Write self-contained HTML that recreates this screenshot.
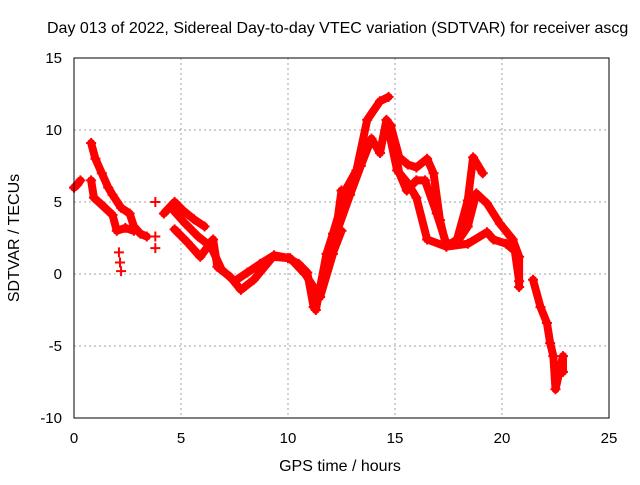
<!DOCTYPE html>
<html><head><meta charset="utf-8"><style>
html,body{margin:0;padding:0;background:#fff}
svg text{font-family:"Liberation Sans",sans-serif;font-size:15px;fill:#000}
svg text.big{font-size:16px}
</style></head><body>
<svg id="chart" width="640" height="480" viewBox="0 0 640 480" xmlns="http://www.w3.org/2000/svg">
<text class="big" x="47" y="33">Day 013 of 2022, Sidereal Day-to-day VTEC variation (SDTVAR) for receiver ascg</text>
<g id="grid"></g>
<g id="series"></g>
<rect x="74" y="58" width="535" height="360" fill="none" stroke="#000" stroke-width="1"/>
<g id="ticks"></g>
<text class="big" x="340" y="471" text-anchor="middle">GPS time / hours</text>
<text class="big" transform="translate(19,238) rotate(-90)" text-anchor="middle">SDTVAR / TECUs</text>
</svg>
<script>
const xTicks=[0,5,10,15,20,25];
const yTicks=[-10,-5,0,5,10,15];
const trackA_t=[0,0.15,0.3];
const trackA_v=[6,6.2,6.5];
const trackB_t=[0.8,1.0,1.3,1.6,1.8,2.2,2.6,2.8,3.1,3.4];
const trackB_v=[9.1,8.0,7.0,6.0,5.5,4.6,4.2,3.3,2.8,2.6];
const trackB2_t=[0.8,0.93,1.3,1.8,2.0,2.4,2.8];
const trackB2_v=[6.5,5.3,4.8,4.1,3.0,3.2,3.0];
const trackIso_t=[2.1,2.15,2.2,3.8,3.8,3.8];
const trackIso_v=[1.5,0.8,0.2,5.0,2.6,1.8];
const trackC_t=[4.2,4.7,5.1,5.6,6.1];
const trackC_v=[4.2,5.0,4.4,3.8,3.3];
const trackD_t=[4.7,5.3,5.9,6.5,6.7,7.3,7.8,8.4,9.3,10.0,10.5,10.9,11.2,11.8,12.5];
const trackD_v=[3.1,2.2,1.2,2.4,0.5,-0.2,-1.1,-0.4,1.2,1.1,0.7,0.1,-2.3,0.3,3.0];
const trackE_t=[4.6,5.2,5.8,6.4,6.9,7.5,8.1,8.7,9.35,10.1,10.8,11.5,12.1,12.5];
const trackE_v=[4.5,3.5,2.6,1.9,0.3,-0.5,0.1,0.7,1.3,1.1,0.0,-1.6,1.4,5.8];
const trackF_t=[11.3,11.8,12.1,12.75,13.2,13.7,14.3,14.7];
const trackF_v=[-2.5,1.4,2.8,6.0,7.2,10.7,12.0,12.3];
const trackG_t=[12.3,12.9,13.4,13.9,14.3,14.6,14.8];
const trackG_v=[3.0,5.5,7.5,9.4,8.4,10.7,10.3];
const trackP_t=[14.8,15.2,15.6,16.0,16.5,16.8,17.1,17.4,17.9,18.4,18.65,19.1];
const trackP_v=[10.3,8.1,7.6,7.4,8.0,7.0,3.75,1.9,2.4,5.1,8.1,7.0];
const trackQ_t=[14.8,15.2,15.55,16.0,16.4,16.95,17.4,17.9,18.4,18.8,19.3,19.9,20.5,20.8,20.8];
const trackQ_v=[10.0,7.0,5.8,6.5,6.5,4.2,2.1,2.2,3.3,5.6,4.9,3.5,2.4,1.2,-0.9];
const trackR_t=[14.7,15.1,15.6,16.0,16.5,17.4,18.4,19.3,19.6,20.2,20.6,20.8];
const trackR_v=[10.0,7.2,6.3,5.3,2.4,1.9,2.1,2.9,2.4,2.1,1.6,-0.5];
const trackT_t=[21.45,21.8,22.1,22.25,22.4,22.5,22.85,22.85];
const trackT_v=[-0.4,-2.3,-3.4,-4.8,-5.7,-8.0,-5.7,-6.8];

const X0=74,X1=609,Y0=418,Y1=58;
function sx(t){return X0+(t-0)/25*(X1-X0);}
function sy(v){return Y0-(v+10)/25*(Y0-Y1);}
const NS="http://www.w3.org/2000/svg";
const grid=document.getElementById('grid'),ticks=document.getElementById('ticks'),ser=document.getElementById('series');
function mk(tag,attrs,parent){const e=document.createElementNS(NS,tag);for(const k in attrs)e.setAttribute(k,attrs[k]);parent.appendChild(e);return e;}
xTicks.forEach(t=>{
  const x=sx(t);
  if(t>0&&t<25){const g=mk('line',{x1:x,y1:Y1,x2:x,y2:Y0,stroke:'#a0a0a0','stroke-dasharray':'2,3'},grid);
  
  }
  const l=mk('text',{x:x,y:Y0+25,'text-anchor':'middle'},ticks);l.textContent=t;
  
  
});
yTicks.forEach(v=>{
  const y=sy(v);
  if(v>-10&&v<15){const g=mk('line',{x1:X0,y1:y,x2:X1,y2:y,stroke:'#a0a0a0','stroke-dasharray':'2,3'},grid);
  
  }
  const l=mk('text',{x:X0-12,y:y+5,'text-anchor':'end'},ticks);l.textContent=v;
  
  
});
const tracks=[[trackA_t,trackA_v,true],[trackB_t,trackB_v,true],[trackB2_t,trackB2_v,true],[trackIso_t,trackIso_v,false],[trackC_t,trackC_v,true],[trackD_t,trackD_v,true],[trackE_t,trackE_v,true],[trackF_t,trackF_v,true],[trackG_t,trackG_v,true],[trackP_t,trackP_v,true],[trackQ_t,trackQ_v,true],[trackR_t,trackR_v,true],[trackT_t,trackT_v,true]];
tracks.forEach(([ts,vs,line])=>{
  if(line){const p=mk('polyline',{points:ts.map((t,i)=>sx(t)+','+sy(vs[i])).join(' '),fill:'none',stroke:'#ff0000','stroke-width':8,'stroke-linejoin':'round','stroke-linecap':'round'},ser);
  
  }
  ts.forEach((t,i)=>{
    const x=sx(t),y=sy(vs[i]);
    const m=mk('path',{d:`M${x-5},${y}H${x+5}M${x},${y-5}V${y+5}`,stroke:'#ff0000','stroke-width':2},ser);
    
    
  });
});
</script>
</body></html>
